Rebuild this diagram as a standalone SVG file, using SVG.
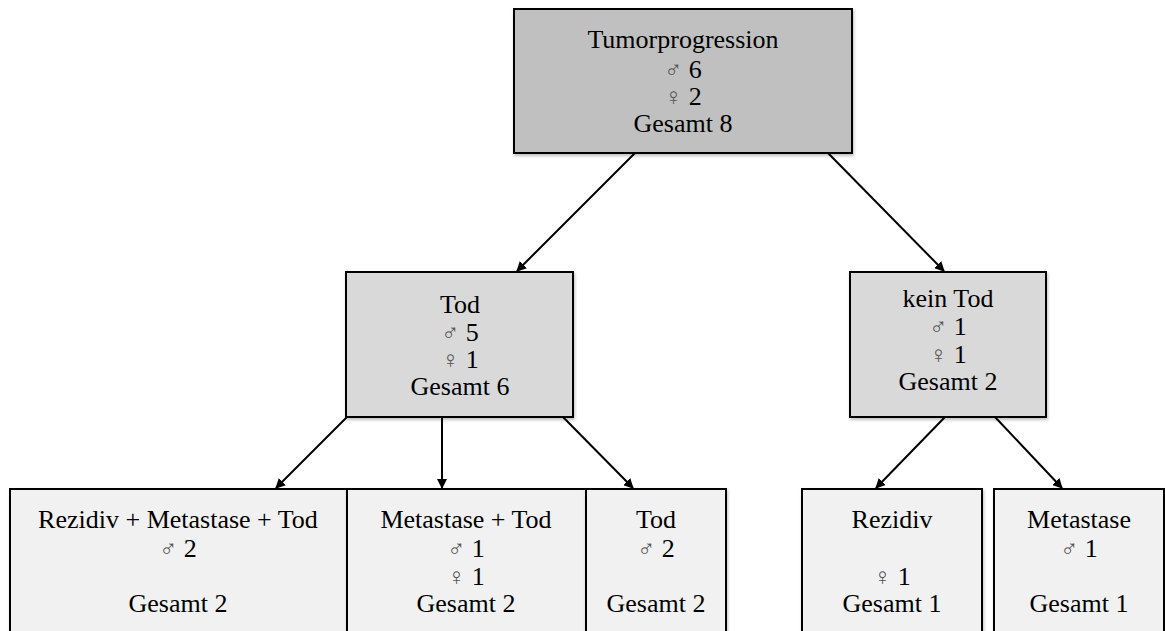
<svg xmlns="http://www.w3.org/2000/svg" width="1165" height="631" viewBox="0 0 1165 631" font-family="'Liberation Serif', 'Times New Roman', Times, serif">
<style>
.box{stroke:#000;stroke-width:2}
.l1{fill:#c0c0c0}.l2{fill:#d9d9d9}.l3{fill:#f1f1f1}
.t{font-family:'Liberation Serif','Times New Roman',Times,serif;font-size:26px;fill:#000;text-anchor:middle}
.sym{fill:#555;font-family:'DejaVu Sans',sans-serif;font-size:24px;font-weight:200}
.edge{stroke:#000;stroke-width:2;fill:none;marker-end:url(#arr)}
</style>
<defs>
<marker id="arr" markerWidth="10" markerHeight="10" refX="9" refY="5" orient="auto" markerUnits="userSpaceOnUse" viewBox="0 0 10 10">
<path d="M0,0 L10,5 L0,10 z" fill="#000"/>
</marker>
<filter id="sh" x="-5%" y="-5%" width="110%" height="115%">
<feDropShadow dx="1" dy="2" stdDeviation="1.5" flood-color="#000" flood-opacity="0.25"/>
</filter>
</defs>
<rect width="1165" height="631" fill="#fff"/>
<g id="connectors">
<line class="edge" x1="635" y1="153" x2="517" y2="271"/>
<line class="edge" x1="828" y1="153" x2="944" y2="271"/>
<line class="edge" x1="347" y1="417" x2="276" y2="488"/>
<line class="edge" x1="442" y1="417" x2="442" y2="488"/>
<line class="edge" x1="563" y1="417" x2="633" y2="488"/>
<line class="edge" x1="945" y1="417" x2="876" y2="488"/>
<line class="edge" x1="995" y1="417" x2="1062" y2="488"/>
</g>
<g id="n-tumor">
<rect class="box l1" x="514" y="9" width="338" height="144" filter="url(#sh)"/>
<text class="t" x="683" y="48">Tumorprogression</text>
<text class="t" x="683" y="78"><tspan class="sym">♂</tspan> 6</text>
<text class="t" x="683" y="105"><tspan class="sym">♀</tspan> 2</text>
<text class="t" x="683" y="132">Gesamt 8</text>
</g>
<g id="n-tod">
<rect class="box l2" x="346" y="272" width="227" height="145" filter="url(#sh)"/>
<text class="t" x="460" y="313">Tod</text>
<text class="t" x="460" y="341"><tspan class="sym">♂</tspan> 5</text>
<text class="t" x="460" y="368"><tspan class="sym">♀</tspan> 1</text>
<text class="t" x="460" y="395">Gesamt 6</text>
</g>
<g id="n-keintod">
<rect class="box l2" x="850" y="272" width="196" height="145" filter="url(#sh)"/>
<text class="t" x="948" y="307">kein Tod</text>
<text class="t" x="948" y="335"><tspan class="sym">♂</tspan> 1</text>
<text class="t" x="948" y="363"><tspan class="sym">♀</tspan> 1</text>
<text class="t" x="948" y="390">Gesamt 2</text>
</g>
<g id="n-rmt">
<rect class="box l3" x="10" y="489" width="337" height="160" filter="url(#sh)"/>
<text class="t" x="178" y="528">Rezidiv + Metastase + Tod</text>
<text class="t" x="178" y="557"><tspan class="sym">♂</tspan> 2</text>
<text class="t" x="178" y="612">Gesamt 2</text>
</g>
<g id="n-mt">
<rect class="box l3" x="347" y="489" width="239" height="160" filter="url(#sh)"/>
<text class="t" x="466" y="528">Metastase + Tod</text>
<text class="t" x="466" y="557"><tspan class="sym">♂</tspan> 1</text>
<text class="t" x="466" y="585"><tspan class="sym">♀</tspan> 1</text>
<text class="t" x="466" y="612">Gesamt 2</text>
</g>
<g id="n-t">
<rect class="box l3" x="586" y="489" width="140" height="160" filter="url(#sh)"/>
<text class="t" x="656" y="528">Tod</text>
<text class="t" x="656" y="557"><tspan class="sym">♂</tspan> 2</text>
<text class="t" x="656" y="612">Gesamt 2</text>
</g>
<g id="n-rezidiv">
<rect class="box l3" x="802" y="489" width="180" height="160" filter="url(#sh)"/>
<text class="t" x="892" y="528">Rezidiv</text>
<text class="t" x="892" y="585"><tspan class="sym">♀</tspan> 1</text>
<text class="t" x="892" y="612">Gesamt 1</text>
</g>
<g id="n-metastase">
<rect class="box l3" x="994" y="489" width="170" height="160" filter="url(#sh)"/>
<text class="t" x="1079" y="528">Metastase</text>
<text class="t" x="1079" y="557"><tspan class="sym">♂</tspan> 1</text>
<text class="t" x="1079" y="612">Gesamt 1</text>
</g>
</svg>
